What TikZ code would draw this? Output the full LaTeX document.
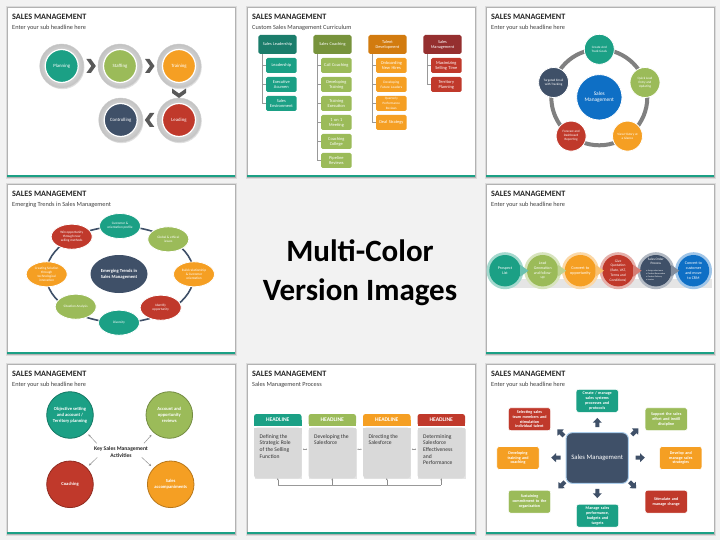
\documentclass[tikz,border=0pt]{standalone}
\usepackage{fontspec}
\setmainfont{Carlito}
\usetikzlibrary{shapes.geometric,calc,arrows.meta}
\definecolor{bg}{HTML}{F2F2F2}
\definecolor{cteal}{HTML}{1BA085}
\definecolor{cgreen}{HTML}{9BBB59}
\definecolor{corange}{HTML}{F59F23}
\definecolor{cred}{HTML}{C0392B}
\definecolor{cslate}{HTML}{3F5068}
\definecolor{cblue}{HTML}{0E6FC5}
\definecolor{dteal}{HTML}{1B7D6B}
\definecolor{dgreen}{HTML}{77933C}
\definecolor{dorange}{HTML}{D27B0F}
\definecolor{dred}{HTML}{952F2F}
\definecolor{ctext}{HTML}{262626}
\newcommand\fs[2]{\fontsize{#1}{#2}\selectfont}
\tikzset{
 ttl/.style={anchor=west, inner sep=0pt, font=\fs{8.2}{9}\bfseries, text=ctext},
 subttl/.style={anchor=west, inner sep=0pt, font=\fs{6.3}{7}, text=black!75},
 wt/.style={text=white, align=center, inner sep=0.5pt},
 hdr/.style={rectangle, rounded corners=1.8pt, minimum width=38.4pt, minimum height=19pt, wt, text width=36pt, font=\fs{4.3}{5}},
 childbox/.style={rectangle, rounded corners=1.5pt, minimum width=30.7pt, minimum height=15pt, wt, text width=29.5pt},
 conn/.style={draw=black!40, line width=0.5pt},
 obox/.style={rectangle, rounded corners=2.5pt, minimum width=42.3pt, minimum height=23pt, wt, text width=41pt, font=\fs{4.1}{4.9}\bfseries, draw=white, line width=0.6pt},
 s6arr/.style={draw=black!45, line width=0.45pt, -{Stealth[length=2.4pt,width=2.2pt]}, shorten >=3pt},
 s7arr/.style={draw=black!45, line width=0.45pt, -{Stealth[length=2pt,width=1.8pt]}},
 chev/.pic={\fill[black!65] (-4.5,-7) -- (0,-7) -- (5,0) -- (0,7) -- (-4.5,7) -- (0.5,0) -- cycle;},
 barrow/.pic={\fill[cslate] (-4.5,-2) -- (0,-2) -- (0,-4.5) -- (4.8,0) -- (0,4.5) -- (0,2) -- (-4.5,2) -- cycle;}
}
\newcommand\mkslide[4]{%
 \fill[black!14] (#2-1.2,#3-1.2) rectangle (#2+229.8,#3+171.8);
 \fill[white] (#2,#3) rectangle (#2+228,#3+170);
 \draw[black!30, line width=0.6pt] (#2,#3) rectangle (#2+228,#3+170);
 \fill[cteal] (#2,#3+167.8) rectangle (#2+228,#3+170);
 \node[ttl] (#1title) at (#2+5,#3+10) {SALES MANAGEMENT};
 \node[subttl] (#1sub) at (#2+5,#3+20.5) {#4};
}
\begin{document}
\begin{tikzpicture}[x=1pt,y=-1pt]
\useasboundingbox (0,0) rectangle (720,540);
\fill[bg] (0,0) rectangle (720,540);

\mkslide{s1}{7}{7}{Enter your sub headline here}
\mkslide{s2}{247}{7}{Custom Sales Management Curriculum}
\mkslide{s3}{486}{7}{Enter your sub headline here}
\mkslide{s4}{7}{184}{Emerging Trends in Sales Management}
\mkslide{s5}{486}{184}{Enter your sub headline here}
\mkslide{s6}{7}{364}{Enter your sub headline here}
\mkslide{s7}{247}{364}{Sales Management Process}
\mkslide{s8}{486}{364}{Enter your sub headline here}

% centre text
\node[anchor=base, inner sep=0pt, font=\fs{31}{36}\bfseries, text=black] (mc1) at (360,261.7) {Multi-Color};
\node[anchor=base, inner sep=0pt, font=\fs{31}{36}\bfseries, text=black] (mc2) at (360,300) {Version Images};

% ---------- slide 1
\begin{scope}[shift={(7,7)}]
\foreach \nm/\x/\y/\col/\txt in {pl/54.7/59/cteal/Planning, st/113/59/cgreen/Staffing, tr/172/59/corange/Training, le/172/113/cred/Leading, co/113.7/113/cslate/Controlling}{
 \fill[black!12] (\x+0.8,\y+1.2) circle (22);
 \shade[inner color=white, outer color=black!24] (\x,\y) circle (22);
 \draw[black!20, line width=0.4pt] (\x,\y) circle (22);
 \node[circle, fill=\col, draw=white, line width=1.2pt, minimum size=33pt, wt, font=\fs{4.8}{5.5}] (s1\nm) at (\x,\y) {\txt};
}
\pic at ($(s1pl)!0.5!(s1st)$) {chev};
\pic at ($(s1st)!0.5!(s1tr)$) {chev};
\pic[rotate=-90] at ($(s1tr)!0.5!(s1le)$) {chev};
\pic[rotate=180] at ($(s1le)!0.5!(s1co)$) {chev};
\end{scope}

% ---------- slide 2
\begin{scope}[shift={(247,7)}]
\node[hdr, fill=dteal] (s2h1) at (30.5,37.5) {Sales Leadership};
\node[hdr, fill=dgreen] (s2h2) at (85.5,37.5) {Sales Coaching};
\node[hdr, fill=dorange] (s2h3) at (140.5,37.5) {Talent\\Development};
\node[hdr, fill=dred] (s2h4) at (195.5,37.5) {Sales\\Management};
\foreach \c/\r/\col/\sz/\txt in {
1/1/cteal/4.4/Leadership, 1/2/cteal/4.4/{Executive\\Acumen}, 1/3/cteal/4.4/{Sales\\Environment},
2/1/cgreen/4.4/Call Coaching, 2/2/cgreen/4.4/{Developing\\Training}, 2/3/cgreen/4.4/{Training\\Execution}, 2/4/cgreen/4.4/{1 on 1\\Meeting}, 2/5/cgreen/4.4/{Coaching\\College}, 2/6/cgreen/4.4/{Pipeline\\Reviews},
3/1/corange/4.4/{Onboarding\\New Hires}, 3/2/corange/3.5/{Developing\\Future Leaders}, 3/3/corange/3.3/{Quarterly\\Performance\\Reviews}, 3/4/corange/4.4/Deal Strategy,
4/1/cred/4.4/{Maximizing\\Selling Time}, 4/2/cred/4.4/{Territory\\Planning}}
{
 \node[childbox, fill=\col, font=\fs{\sz}{5}] (s2c\c\r) at ({34.35+55*(\c-1)},{58.5+19*(\r-1)}) {\txt};
 \draw[conn] ($(s2h\c.south west)+(4,0)$) |- (s2c\c\r.west);
}
\end{scope}

% ---------- slide 3
\begin{scope}[shift={(486,7)}]
\draw[line width=4pt, black!50] (113.3,90.3) circle (48);
\node[circle, fill=cblue, draw=white, line width=0.8pt, minimum size=45.4pt, wt, font=\fs{5.4}{6.3}] (s3c) at (113.3,90.3) {Sales\\Management};
\foreach \nm/\x/\y/\col/\txt in {a/113.3/42.3/cteal/{Create And\\Track Goals}, b/159/75.5/cgreen/{Quick Lead\\Entry and\\Updating}, c/141.5/129.1/corange/{View History at\\a Glance}, d/85.1/129.1/cred/{Forecast and\\Dashboard\\Reporting}, e/67.6/75.5/cslate/{Targeted Email\\with Tracking}}
 \node[circle, fill=\col, draw=white, line width=0.8pt, minimum size=30pt, wt, font=\fs{3.3}{4}] (s3\nm) at (\x,\y) {\txt};
\end{scope}

% ---------- slide 4
\begin{scope}[shift={(7,184)}]
\draw[cslate, line width=1.6pt] (113,90.5) ellipse [x radius=74, y radius=48];
\node[ellipse, fill=cslate, minimum width=57pt, minimum height=38pt, wt, font=\fs{4.6}{5.6}\bfseries] (s4c) at (112,90) {Emerging Trends in\\Sales Management};
\foreach \nm/\x/\y/\col/\txt in {a/113/42/cteal/{Customer \&\\orientation profile}, b/161.3/55.3/cgreen/{Global \& ethical\\issues}, c/187/90.3/corange/{Build relationship\\\& Customer\\orientation}, d/153.7/123.7/cred/{Identify\\opportunity}, e/112/138.7/cteal/Diversity, f/68.7/122.7/cgreen/Situation Analysis, g/39.7/90.3/corange/{Creating Solution\\through\\technological\\innovation}, h/64.7/52.7/cred/{Win opportunity\\through new\\selling methods}}
 \node[ellipse, fill=\col, draw=white, line width=0.8pt, minimum width=41pt, minimum height=25pt, wt, font=\fs{3.4}{4.1}] (s4\nm) at (\x,\y) {\txt};
\end{scope}

% ---------- slide 5
\begin{scope}[shift={(486,184)}]
\fill[black!10] (22,94.5) rectangle (226,104);
\foreach \i/\col in {0/cteal,1/cgreen,2/corange,3/cred,4/cslate,5/cblue}
 \fill[\col!40!white] ({19+37.7*\i},86.7) circle (18.5);
\foreach \i/\col/\sz/\txt in {0/cteal/4/{Prospect\\List}, 1/cgreen/3.9/{Lead\\Generation\\and follow-\\up}, 2/corange/4.2/{Convert to\\opportunity}, 3/cred/3.6/{Give\\Quotation\\(Rate, VAT,\\Terms and\\Conditions)}, 4/cslate/3/{}, 5/cblue/4/{Convert to\\customer\\and move\\to CRM}}
 \node[circle, fill=\col, minimum size=31.4pt, wt, font=\fs{\sz}{4.7}] (s5c\i) at ({19+37.7*\i},86.7) {\txt};
\foreach \i/\col in {0/cteal,1/cgreen,2/corange,3/cred,4/cslate}
 \fill[\col!65!white] ({19+37.7*\i+15},80.7) -- ++(8.5,6) -- ++(-8.5,6) -- cycle;
\node[wt, font=\fs{3.4}{4}] (s5so) at (169.8,77.5) {Sales Order\\Process};
\node[text=white, align=left, inner sep=0pt, font=\fs{2.1}{2.9}] (s5sb) at (169.8,91) {• Assign sales team\\• Product Reservation\\• Product Delivery\\• Invoice};
\end{scope}

% ---------- slide 6
\begin{scope}[shift={(7,364)}]
\node[circle, fill=cteal, draw=cteal!75!black, line width=0.8pt, minimum size=46.6pt, wt, font=\fs{4.6}{6}\bfseries] (s6tl) at (63,51) {Objective setting\\and account /\\Territory planning};
\node[circle, fill=cgreen, draw=cgreen!75!black, line width=0.8pt, minimum size=46.6pt, wt, font=\fs{4.6}{6}\bfseries] (s6tr) at (162.3,51) {Account and\\opportunity\\reviews};
\node[circle, fill=cred, draw=cred!75!black, line width=0.8pt, minimum size=46.6pt, wt, font=\fs{4.6}{6}\bfseries] (s6bl) at (63,120.3) {Coaching};
\node[circle, fill=corange, draw=corange!75!black, line width=0.8pt, minimum size=46.6pt, wt, font=\fs{4.6}{6}\bfseries] (s6br) at (163.7,120.3) {Sales\\accompaniments};
\node[align=center, inner sep=0.5pt, text=ctext, font=\fs{5.6}{7}\bfseries] (s6c) at (114,88) {Key Sales Management\\Activities};
\coordinate (s6a1) at (89.7,79.3);
\coordinate (s6a2) at (137,79.3);
\coordinate (s6a3) at (90.3,93.3);
\coordinate (s6a4) at (134.7,93.3);
\draw[s6arr] (s6a1) -- (s6tl);
\draw[s6arr] (s6a2) -- (s6tr);
\draw[s6arr] (s6a3) -- (s6bl);
\draw[s6arr] (s6a4) -- (s6br);
\end{scope}

% ---------- slide 7
\begin{scope}[shift={(247,364)}]
\foreach \i/\x/\col/\txt in {1/7/cteal/{Defining the\\Strategic Role\\of the Selling\\Function}, 2/61.5/cgreen/{Developing the\\Salesforce}, 3/116/corange/{Directing the\\Salesforce}, 4/170.5/cred/{Determining\\Salesforce\\Effectiveness\\and\\Performance}}{
 \fill[\col, rounded corners=2.5pt] (\x,50) rectangle (\x+47.5,61.7);
 \fill[\col] (\x,56) rectangle (\x+47.5,61.7);
 \fill[black!10] (\x+0.8,64.5) rectangle (\x+48.3,115.1);
 \fill[black!15, rounded corners=3pt] (\x,63.7) rectangle (\x+47.5,114.3);
 \fill[black!15] (\x,63.7) rectangle (\x+47.5,70);
 \node[wt, font=\fs{5.6}{6}\bfseries] (s7h\i) at (\x+23.75,55.85) {HEADLINE};
 \node[anchor=north west, inner sep=0pt, align=left, text=black!80, font=\fs{5.6}{6.7}] (s7t\i) at (\x+5.5,70) {\txt};
 \coordinate (s7bot\i) at (\x+23.75,114.3);
 \coordinate (s7dn\i) at (\x+23.75,121);
 \coordinate (s7l\i) at (\x,85.3);
 \coordinate (s7r\i) at (\x+47.5,85.3);
 \draw[s7arr] (s7dn\i) -- (s7bot\i);
}
\draw[conn] (s7dn1) -- (s7dn4);
\foreach \i/\j in {1/2,2/3,3/4}
 \draw[conn, {Circle[length=1.3pt]}-{Circle[length=1.3pt]}] ([xshift=1.5]s7r\i) -- ([xshift=-1.5]s7l\j);
\end{scope}

% ---------- slide 8
\begin{scope}[shift={(486,364)}]
\node[rectangle, rounded corners=6pt, fill=cslate, draw=cblue!35!white, line width=1pt, minimum width=62.3pt, minimum height=50.6pt, text=white, font=\fs{6.7}{8}] (s8c) at (111.2,94) {Sales Management};
\node[obox, fill=cteal] (s8t) at (111.2,36.8) {Create / manage\\sales systems\\processes and\\protocols};
\node[obox, fill=cgreen] (s8tr) at (180.2,55.2) {Support the sales\\effort and instill\\discipline};
\node[obox, fill=corange] (s8r) at (194.8,94) {Develop and\\manage sales\\strategies};
\node[obox, fill=cred] (s8br) at (180.2,137.7) {Stimulate and\\manage change};
\node[obox, fill=cteal] (s8b) at (111.5,151.7) {Manage sales\\performance,\\budgets and\\targets};
\node[obox, fill=cgreen] (s8bl) at (43.5,137.7) {Sustaining\\commitment to the\\organization};
\node[obox, fill=corange] (s8l) at (32,94) {Developing\\training and\\coaching};
\node[obox, fill=cred] (s8tl) at (43.5,55.2) {Selecting sales\\team members and\\stimulation\\individual talent};
\pic[rotate=90] at (111.3,58.7) {barrow};
\pic[rotate=45] at (149,67.7) {barrow};
\pic[rotate=0] at (154,93.7) {barrow};
\pic[rotate=-45] at (146.7,121) {barrow};
\pic[rotate=-90] at (111.3,129.3) {barrow};
\pic[rotate=-135] at (75.7,121) {barrow};
\pic[rotate=180] at (70,93.7) {barrow};
\pic[rotate=135] at (74.7,68.7) {barrow};
\end{scope}
\end{tikzpicture}
\end{document}
